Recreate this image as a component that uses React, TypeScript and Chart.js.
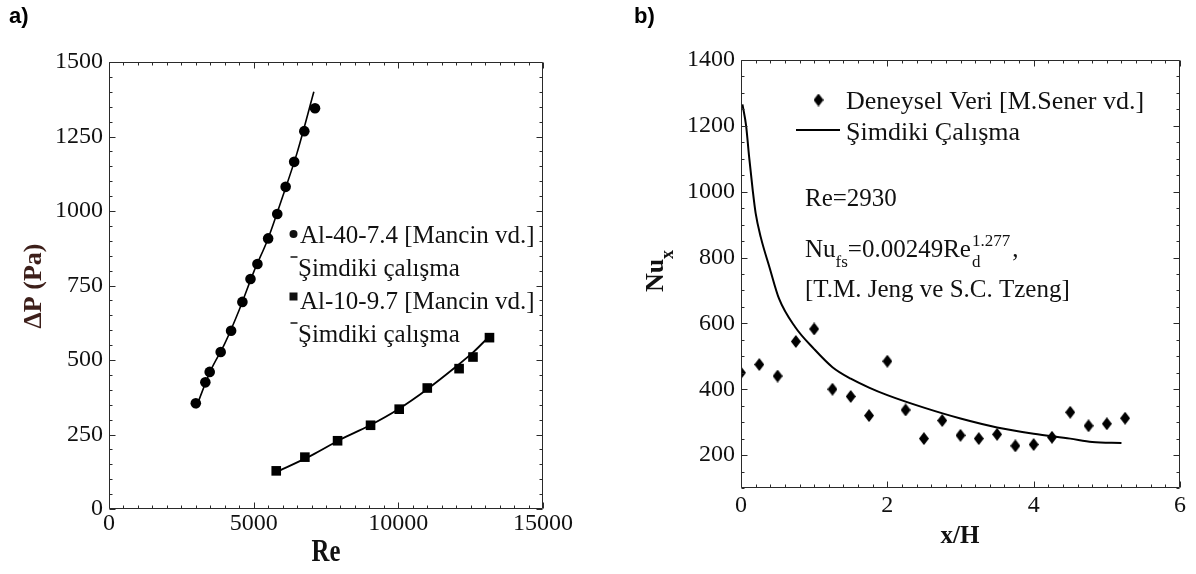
import React, { useEffect, useRef } from 'react';
import { Chart, registerables } from 'chart.js';

Chart.register(...registerables);

// ---------------- Panel a data ----------------
const reAl40 = [3000, 3330, 3480, 3860, 4220, 4610, 4890, 5130, 5500, 5815, 6105, 6400, 6750, 7120];
const dpAl40 = [355, 425, 460, 527, 598, 695, 772, 822, 908, 990, 1081, 1165, 1268, 1345];
const reAl40Sim = [3000, 3500, 4000, 4500, 5000, 5500, 6000, 6500, 7080];
const dpAl40Sim = [338, 462, 555, 668, 795, 908, 1048, 1195, 1400];
const reAl10 = [5780, 6770, 7900, 9040, 10030, 11000, 12100, 12580, 13150];
const dpAl10 = [128, 174, 229, 281, 335, 406, 471, 510, 575];
const reAl10Sim = [5700, 7000, 8000, 9000, 10000, 11000, 12000, 12600, 13100];
const dpAl10Sim = [120, 180, 233, 280, 335, 402, 478, 527, 575];
const xTicksA = [0, 5000, 10000, 15000];
const yTicksA = [0, 250, 500, 750, 1000, 1250, 1500];
const legendA = ['Al-40-7.4 [Mancin vd.]', 'Şimdiki çalışma', 'Al-10-9.7 [Mancin vd.]', 'Şimdiki çalışma'];

// ---------------- Panel b data ----------------
const xhExp = [0, 0.25, 0.5, 0.75, 1.0, 1.25, 1.5, 1.75, 2.0, 2.25, 2.5, 2.75, 3.0, 3.25, 3.5, 3.75, 4.0, 4.25, 4.5, 4.75, 5.0, 5.25];
const nuExp = [450, 475, 440, 545, 583, 400, 378, 320, 485, 337, 250, 305, 260, 250, 263, 228, 232, 254, 330, 289, 295, 312];
const xhSim = [0.02, 0.07, 0.11, 0.16, 0.2, 0.27, 0.39, 0.52, 0.74, 1.0, 1.25, 1.5, 1.75, 2.0, 2.5, 3.0, 3.5, 4.0, 4.5, 4.8, 5.2];
const nuSim = [1265, 1200, 1108, 1005, 935, 862, 770, 675, 589, 522, 467, 432, 405, 382, 344, 311, 284, 265, 250, 240, 237];
const xTicksB = [0, 2, 4, 6];
const yTicksB = [200, 400, 600, 800, 1000, 1200, 1400];
const legendB = ['Deneysel Veri [M.Sener vd.]', 'Şimdiki Çalışma'];

const SERIF = '"Liberation Serif", "Times New Roman", "DejaVu Serif", serif';
const SANS = '"Liberation Sans", Arial, sans-serif';
const INK = '#111111';

const pts = (xs: number[], ys: number[]) => xs.map((x, i) => ({ x, y: ys[i] }));

function makeDiamond(w: number, h: number) {
  const c = document.createElement('canvas');
  c.width = w;
  c.height = h;
  const g = c.getContext('2d')!;
  g.fillStyle = '#000';
  g.beginPath();
  g.moveTo(w / 2, 0);
  g.lineTo(w, h / 2);
  g.lineTo(w / 2, h);
  g.lineTo(0, h / 2);
  g.closePath();
  g.fill();
  return c;
}

type TickSpec = { xMin: number; xMax: number; xMinor: number; xMajor: number; yMin: number; yMax: number; yMinor: number; yMajor: number };

function drawFrameTicks(chart: any, s: TickSpec) {
  const { ctx, chartArea } = chart;
  const xs = chart.scales.x;
  const ys = chart.scales.y;
  const L = Math.round(chartArea.left) + 0.5;
  const R = Math.round(chartArea.right) - 0.5;
  const T = Math.round(chartArea.top) + 0.5;
  const B = Math.round(chartArea.bottom) - 0.5;
  ctx.save();
  ctx.strokeStyle = '#2a2a2a';
  ctx.lineWidth = 1;
  ctx.beginPath();
  ctx.rect(L, T, R - L, B - T);
  ctx.stroke();
  ctx.beginPath();
  const nx = Math.round((s.xMax - s.xMin) / s.xMinor);
  for (let i = 0; i <= nx; i++) {
    const v = s.xMin + i * s.xMinor;
    const major = Math.abs(v / s.xMajor - Math.round(v / s.xMajor)) < 1e-6;
    const len = major ? 6 : 3;
    const p = Math.round(xs.getPixelForValue(v)) + 0.5;
    ctx.moveTo(p, B); ctx.lineTo(p, B - len);
    ctx.moveTo(p, T); ctx.lineTo(p, T + len);
  }
  const ny = Math.round((s.yMax - s.yMin) / s.yMinor);
  for (let i = 0; i <= ny; i++) {
    const v = s.yMin + i * s.yMinor;
    const major = Math.abs(v / s.yMajor - Math.round(v / s.yMajor)) < 1e-6;
    const len = major ? 6 : 3;
    const p = Math.round(ys.getPixelForValue(v)) + 0.5;
    ctx.moveTo(L, p); ctx.lineTo(L + len, p);
    ctx.moveTo(R, p); ctx.lineTo(R - len, p);
  }
  ctx.stroke();
  ctx.restore();
}

function tickOpts(padding: number) {
  return {
    font: { family: SERIF, size: 24 },
    color: INK,
    padding,
    maxRotation: 0,
    autoSkip: false,
    callback: (v: any) => String(v),
  };
}

const decorA = {
  id: 'decorA',
  afterDraw(chart: any) {
    const ctx = chart.ctx as CanvasRenderingContext2D;
    drawFrameTicks(chart, { xMin: 0, xMax: 15000, xMinor: 500, xMajor: 5000, yMin: 0, yMax: 1500, yMinor: 50, yMajor: 250 });
    ctx.save();
    // legend
    ctx.fillStyle = INK;
    ctx.strokeStyle = INK;
    ctx.font = `25px ${SERIF}`;
    ctx.textBaseline = 'alphabetic';
    ctx.textAlign = 'left';
    const rows = [234, 267, 300, 333];
    ctx.beginPath();
    ctx.arc(293.5, rows[0], 4, 0, Math.PI * 2);
    ctx.fill();
    ctx.fillText(legendA[0], 300, rows[0] + 8.5);
    ctx.lineWidth = 1.5;
    ctx.beginPath(); ctx.moveTo(290.5, rows[1] - 10); ctx.lineTo(297.5, rows[1] - 10); ctx.stroke();
    ctx.fillText(legendA[1], 298, rows[1] + 8.5);
    ctx.fillRect(289.5, rows[2] - 7.5, 8, 8);
    ctx.fillText(legendA[2], 300, rows[2] + 8.5);
    ctx.beginPath(); ctx.moveTo(290.5, rows[3] - 10); ctx.lineTo(297.5, rows[3] - 10); ctx.stroke();
    ctx.fillText(legendA[3], 298, rows[3] + 8.5);

    // x title "Re" (tall, narrow bold)
    ctx.save();
    ctx.translate(326, 561);
    ctx.scale(0.8, 1);
    ctx.font = `bold 31px ${SERIF}`;
    ctx.textAlign = 'center';
    ctx.fillStyle = INK;
    ctx.fillText('Re', 0, 0);
    ctx.restore();

    // y title
    ctx.save();
    ctx.translate(34.5, 286);
    ctx.rotate(-Math.PI / 2);
    ctx.font = `bold 26px ${SERIF}`;
    ctx.textAlign = 'center';
    ctx.textBaseline = 'middle';
    ctx.fillStyle = '#3d1f1a';
    ctx.fillText('ΔP (Pa)', 0, 0);
    ctx.restore();

    // panel label
    ctx.font = `bold 22px ${SANS}`;
    ctx.fillStyle = '#000';
    ctx.textAlign = 'left';
    ctx.fillText('a)', 9, 23);
    ctx.restore();
  },
};

const decorB = {
  id: 'decorB',
  afterDraw(chart: any) {
    const ctx = chart.ctx as CanvasRenderingContext2D;
    drawFrameTicks(chart, { xMin: 0, xMax: 6, xMinor: 0.2, xMajor: 2, yMin: 100, yMax: 1400, yMinor: 50, yMajor: 200 });
    ctx.save();
    ctx.fillStyle = INK;
    ctx.strokeStyle = '#000';
    ctx.textAlign = 'left';
    ctx.textBaseline = 'alphabetic';
    const main = `25px ${SERIF}`;
    const legFont = `26px ${SERIF}`;
    const small = `17px ${SERIF}`;
    // legend
    const dia = makeDiamond(10, 13);
    ctx.drawImage(dia, 218.5 - 5, 100 - 6.5);
    ctx.font = legFont;
    ctx.fillText(legendB[0], 246, 109);
    ctx.lineWidth = 2;
    ctx.beginPath(); ctx.moveTo(196, 130); ctx.lineTo(240, 130); ctx.stroke();
    ctx.fillText(legendB[1], 246, 140);

    // annotations
    ctx.font = main;
    ctx.fillText('Re=2930', 205, 206);
    let x = 205;
    const bl = 257;
    ctx.font = main; ctx.fillText('Nu', x, bl); x += ctx.measureText('Nu').width;
    ctx.font = small; ctx.fillText('fs', x, bl + 10); x += ctx.measureText('fs').width;
    ctx.font = main; ctx.fillText('=0.00249Re', x, bl); x += ctx.measureText('=0.00249Re').width;
    ctx.font = small; ctx.fillText('d', x + 1, bl + 10); ctx.fillText('1.277', x + 1, bl - 11); x += ctx.measureText('1.277').width + 3;
    ctx.font = main; ctx.fillText(',', x, bl);
    ctx.fillText('[T.M. Jeng ve S.C. Tzeng]', 205, 297);

    // x title
    ctx.font = `bold 25px ${SERIF}`;
    ctx.textAlign = 'center';
    ctx.fillText('x/H', 360, 543);

    // y title Nu_x rotated
    ctx.save();
    ctx.translate(63, 271);
    ctx.rotate(-Math.PI / 2);
    ctx.textAlign = 'left';
    ctx.font = `bold 26px ${SERIF}`;
    const wN = ctx.measureText('Nu').width;
    ctx.font = `bold 18px ${SERIF}`;
    const wx = ctx.measureText('x').width;
    const start = -(wN + wx) / 2;
    ctx.font = `bold 26px ${SERIF}`;
    ctx.fillText('Nu', start, 0);
    ctx.font = `bold 18px ${SERIF}`;
    ctx.fillText('x', start + wN, 10);
    ctx.restore();

    // panel label
    ctx.font = `bold 22px ${SANS}`;
    ctx.fillStyle = '#000';
    ctx.textAlign = 'left';
    ctx.fillText('b)', 34, 23);
    ctx.restore();
  },
};

export default function App() {
  const refA = useRef<HTMLCanvasElement>(null);
  const refB = useRef<HTMLCanvasElement>(null);

  useEffect(() => {
    const chartA = new Chart(refA.current!, {
      type: 'scatter',
      data: {
        datasets: [
          { label: legendA[0], data: pts(reAl40, dpAl40), pointStyle: 'circle', pointRadius: 5.3, backgroundColor: '#000', borderColor: '#000', borderWidth: 0, showLine: false },
          { label: legendA[2], data: pts(reAl10, dpAl10), pointStyle: 'rect', pointRadius: 6.8, backgroundColor: '#000', borderColor: '#000', borderWidth: 0, showLine: false },
          { label: legendA[1], data: pts(reAl40Sim, dpAl40Sim), showLine: true, pointRadius: 0, borderColor: '#000', borderWidth: 1.6, cubicInterpolationMode: 'monotone' },
          { label: legendA[3], data: pts(reAl10Sim, dpAl10Sim), showLine: true, pointRadius: 0, borderColor: '#000', borderWidth: 1.8, cubicInterpolationMode: 'monotone' },
        ],
      } as any,
      options: {
        animation: false,
        responsive: false,
        devicePixelRatio: 1,
        events: [],
        layout: { padding: { left: 0, top: 62, right: 57, bottom: 0 } },
        plugins: { legend: { display: false }, tooltip: { enabled: false } },
        scales: {
          x: {
            type: 'linear', min: 0, max: 15000,
            afterBuildTicks: (s: any) => { s.ticks = xTicksA.map((v) => ({ value: v })); },
            afterFit: (s: any) => { s.height = 65; },
            grid: { display: false, drawTicks: false },
            border: { display: false },
            ticks: tickOpts(0),
          },
          y: {
            type: 'linear', min: 0, max: 1500,
            afterBuildTicks: (s: any) => { s.ticks = yTicksA.map((v) => ({ value: v })); },
            afterFit: (s: any) => { s.width = 109; },
            grid: { display: false, drawTicks: false },
            border: { display: false },
            ticks: tickOpts(6),
          },
        },
      } as any,
      plugins: [decorA],
    });

    const diamond = makeDiamond(10, 13);
    const chartB = new Chart(refB.current!, {
      type: 'scatter',
      data: {
        datasets: [
          { label: legendB[0], data: pts(xhExp, nuExp), pointStyle: diamond, pointRadius: 6, backgroundColor: '#000', borderColor: '#000', showLine: false },
          { label: legendB[1], data: pts(xhSim, nuSim), showLine: true, pointRadius: 0, borderColor: '#000', borderWidth: 2, cubicInterpolationMode: 'monotone' },
        ],
      } as any,
      options: {
        animation: false,
        responsive: false,
        devicePixelRatio: 1,
        events: [],
        layout: { padding: { left: 0, top: 60, right: 16, bottom: 0 } },
        plugins: { legend: { display: false }, tooltip: { enabled: false } },
        scales: {
          x: {
            type: 'linear', min: 0, max: 6,
            afterBuildTicks: (s: any) => { s.ticks = xTicksB.map((v) => ({ value: v })); },
            afterFit: (s: any) => { s.height = 86; },
            grid: { display: false, drawTicks: false },
            border: { display: false },
            ticks: tickOpts(3),
          },
          y: {
            type: 'linear', min: 100, max: 1400,
            afterBuildTicks: (s: any) => { s.ticks = yTicksB.map((v) => ({ value: v })); },
            afterFit: (s: any) => { s.width = 141; },
            grid: { display: false, drawTicks: false },
            border: { display: false },
            ticks: tickOpts(6),
          },
        },
      } as any,
      plugins: [decorB],
    });

    return () => {
      chartA.destroy();
      chartB.destroy();
    };
  }, []);

  return (
    <div style={{ position: 'absolute', left: 0, top: 0, width: 1196, height: 574, background: '#fff', overflow: 'hidden' }}>
      <canvas ref={refA} width={600} height={574} style={{ position: 'absolute', left: 0, top: 0, width: 600, height: 574 }} />
      <canvas ref={refB} width={596} height={574} style={{ position: 'absolute', left: 600, top: 0, width: 596, height: 574 }} />
    </div>
  );
}
